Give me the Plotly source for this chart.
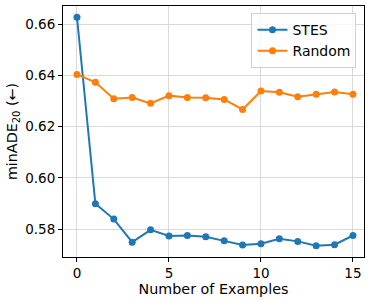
import plotly.graph_objects as go

examples = list(range(16))
stes = [0.6627, 0.5899, 0.5839, 0.5749, 0.5797, 0.5773, 0.5775, 0.5770,
        0.5754, 0.5738, 0.5743, 0.5762, 0.5752, 0.5735, 0.5739, 0.5775]
random_vals = [0.6404, 0.6373, 0.6309, 0.6314, 0.6291, 0.6321, 0.6314, 0.6313,
               0.6306, 0.6267, 0.6339, 0.6334, 0.6317, 0.6326, 0.6335, 0.6326]

fig = go.Figure()
fig.add_trace(go.Scatter(x=examples, y=stes, mode="lines+markers", name="STES",
                         line=dict(color="#1f77b4", width=2), marker=dict(size=7, color="#1f77b4")))
fig.add_trace(go.Scatter(x=examples, y=random_vals, mode="lines+markers", name="Random",
                         line=dict(color="#ff7f0e", width=2), marker=dict(size=7, color="#ff7f0e")))

tick_font = dict(family="DejaVu Sans", size=13.5, color="black")
title_font = dict(family="DejaVu Sans", size=14.3, color="black")
fig.update_layout(
    width=373, height=302,
    margin=dict(l=63, r=9, t=6, b=45),
    paper_bgcolor="white", plot_bgcolor="white",
    font=tick_font,
    showlegend=True,
    legend=dict(x=0.975, y=0.972, xanchor="right", yanchor="top",
                bgcolor="rgba(255,255,255,0.8)", bordercolor="#d0d0d0", borderwidth=1,
                font=dict(family="DejaVu Sans", size=14, color="black")),
)
fig.update_xaxes(range=[-0.76, 15.6], tickvals=[0, 5, 10, 15],
                 showgrid=True, gridcolor="#d9d9d9", gridwidth=1,
                 showline=True, linecolor="black", linewidth=1, mirror=True,
                 ticks="outside", ticklen=4, tickcolor="black",
                 tickfont=tick_font, zeroline=False,
                 title=dict(text="Number of Examples", standoff=2, font=title_font))
fig.update_yaxes(range=[0.5691, 0.6671], tickvals=[0.58, 0.60, 0.62, 0.64, 0.66],
                 tickformat=".2f",
                 showgrid=True, gridcolor="#d9d9d9", gridwidth=1,
                 showline=True, linecolor="black", linewidth=1, mirror=True,
                 ticks="outside", ticklen=4, tickcolor="black",
                 tickfont=tick_font, zeroline=False,
                 title=dict(text="minADE<sub>20</sub> (←)", standoff=4, font=title_font))

fig.write_html("out.html", config={"displayModeBar": False},
               post_script="document.body.style.margin='0';document.body.style.overflow='hidden';")
